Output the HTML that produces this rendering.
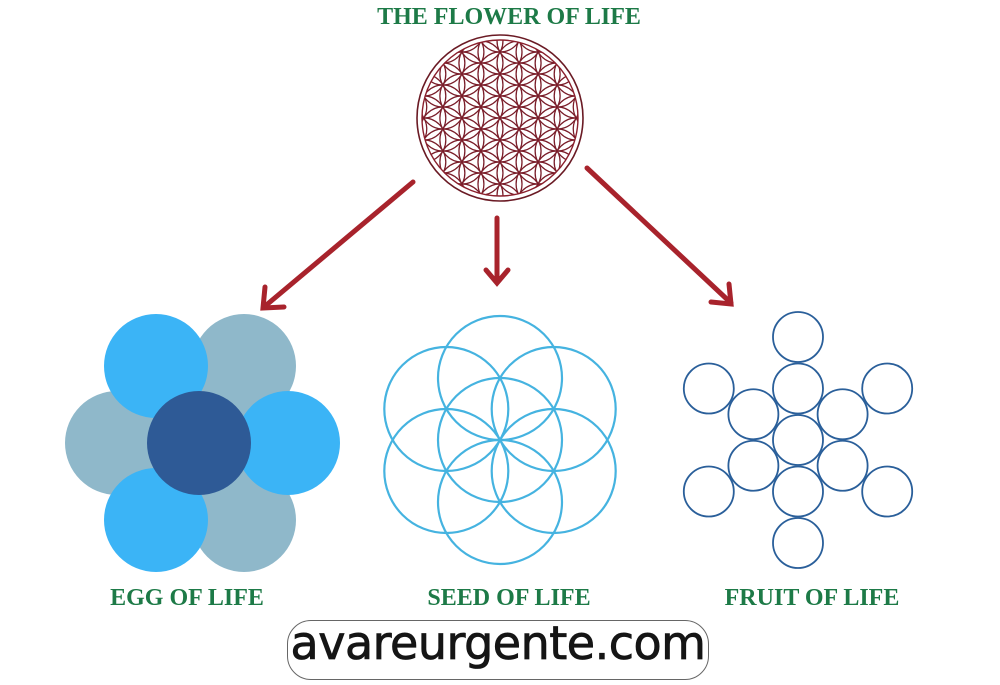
<!DOCTYPE html>
<html><head><meta charset="utf-8"><style>
body{margin:0;background:#fff;width:1000px;height:685px;overflow:hidden;position:relative;font-family:"Liberation Serif",serif}
.t{position:absolute;color:#1d7a47;font-weight:bold;font-size:24px;white-space:nowrap;transform:translateX(-50%)}
.wm{position:absolute;left:287px;top:620px;width:420px;height:58px;border:1.5px solid #666;border-radius:24px;background:#fff;}
.wm span{position:absolute;left:0;right:0;top:-5px;text-align:center;font-family:"DejaVu Sans","Liberation Sans",sans-serif;font-size:46px;color:#151515;letter-spacing:-0.5px;-webkit-text-stroke:0.8px #151515}
</style></head><body>
<div class="t" style="left:509px;top:4px">THE FLOWER OF LIFE</div>
<div class="t" style="left:187px;top:585px">EGG OF LIFE</div>
<div class="t" style="left:509px;top:585px">SEED OF LIFE</div>
<div class="t" style="left:812px;top:585px">FRUIT OF LIFE</div>
<svg id="s" width="1000" height="685" style="position:absolute;left:0;top:0">
<defs><clipPath id="c"><circle cx="500" cy="118" r="78"/></clipPath></defs>
<g id="flower" clip-path="url(#c)" fill="none" stroke="#7a1e2a" stroke-width="1.3"></g>
<circle cx="500" cy="118" r="78" fill="none" stroke="#8a1f2c" stroke-width="1.4"/>
<circle cx="500" cy="118" r="83" fill="none" stroke="#6a1a24" stroke-width="1.6"/>
<g stroke="#a8232c" stroke-width="5" fill="none" stroke-linecap="round">
<line x1="413" y1="182" x2="264" y2="307"/><polyline points="265,287 263,308 284,307"/>
<line x1="497" y1="218" x2="497" y2="282"/><polyline points="486,270 497,283 508,270"/>
<line x1="587" y1="168" x2="731" y2="303"/><polyline points="711,302 731,304 729,284"/>
</g>
<circle cx="244" cy="366" r="52" fill="#8fb8ca"/>
<circle cx="244" cy="520" r="52" fill="#8fb8ca"/>
<circle cx="117" cy="443" r="52" fill="#8fb8ca"/>
<circle cx="156" cy="366" r="52" fill="#3bb4f6"/>
<circle cx="288" cy="443" r="52" fill="#3bb4f6"/>
<circle cx="156" cy="520" r="52" fill="#3bb4f6"/>
<circle cx="199" cy="443" r="52" fill="#2e5a96"/>
<g id="seed" fill="none" stroke="#45b3e0" stroke-width="2.2"></g>
<g id="fruit" fill="none" stroke="#2a5f9a" stroke-width="1.8"></g>
</svg>
<div class="wm"><span>avareurgente.com</span></div>
<script>
var NS="http://www.w3.org/2000/svg";
function C(g,x,y,r){var c=document.createElementNS(NS,"circle");c.setAttribute("cx",x);c.setAttribute("cy",y);c.setAttribute("r",r);document.getElementById(g).appendChild(c);}
var r=22,cx=500,cy=118;
for(var a=-8;a<=8;a++)for(var b=-8;b<=8;b++){
 var px=cx+r*Math.sqrt(3)/2*b, py=cy+r*(a+b/2);
 if(Math.hypot(px-cx,py-cy)<=78+r) C("flower",px,py,r);}
var R=62;C("seed",500,440,R);
for(var k=0;k<6;k++){var an=Math.PI/2+k*Math.PI/3;C("seed",500+R*Math.cos(an),440-R*Math.sin(an),R);}
var fr=25,fx=798,fy=440;C("fruit",fx,fy,fr);
for(var k=0;k<6;k++){var an=Math.PI/2+k*Math.PI/3;C("fruit",fx+2*fr*1.03*Math.cos(an),fy-2*fr*1.03*Math.sin(an),fr);C("fruit",fx+4*fr*1.03*Math.cos(an),fy-4*fr*1.03*Math.sin(an),fr);}
</script>
</body></html>
